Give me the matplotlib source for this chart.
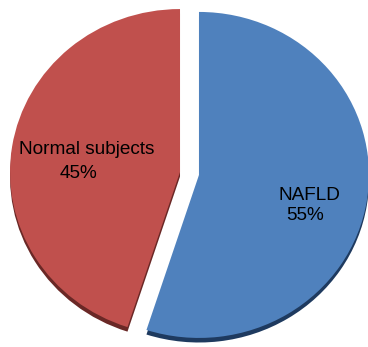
import matplotlib
matplotlib.use("Agg")
import matplotlib.pyplot as plt

categories = ["NAFLD", "Normal subjects"]
values = [55, 45]
colors = ["#4F81BD", "#C0504D"]
rim_colors = ["#1E3A5F", "#6A2826"]

W, H = 368, 347
fig = plt.figure(figsize=(W / 100, H / 100), dpi=100)
ax = fig.add_axes([0, 0, 1, 1])

x0, y0, sx, sy = 189.5, 173.5, 170.0, 163.0

explode = [0.0565, 0.0565]

# 3D-ish rim below
ax.pie(values, colors=rim_colors, startangle=90, counterclock=False,
       explode=explode, radius=1.0, center=(0, -0.028), frame=True,
       wedgeprops=dict(linewidth=0))
ax.pie(values, colors=colors, startangle=90, counterclock=False,
       explode=explode, radius=1.0, center=(0, 0), frame=True,
       wedgeprops=dict(linewidth=0))
ax.set_aspect("auto")
ax.set_xlim(-x0 / sx, (W - x0) / sx)
ax.set_ylim(-(H - y0) / sy, y0 / sy)
ax.axis("off")

font = dict(family=["Liberation Sans", "DejaVu Sans"], fontsize=13.7, color="black")

def px(x, y):
    return x / W, 1 - y / H

label_pos = {"NAFLD": [(309, 195), (305.5, 215.5)],
             "Normal subjects": [(87, 150), (79, 173)]}
for cat, v in zip(categories, values):
    (a, b), (c, d) = label_pos[cat]
    fig.text(*px(a, b), cat, ha="center", va="center", **font)
    fig.text(*px(c, d), f"{v}%", ha="center", va="center", **font)

fig.savefig("out.png", dpi=100)
